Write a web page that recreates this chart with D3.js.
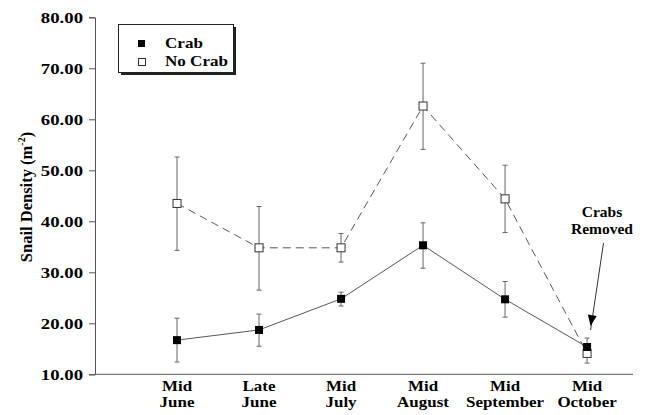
<!DOCTYPE html>
<html><head><meta charset="utf-8">
<script src="https://cdn.jsdelivr.net/npm/d3@7"></script>
<style>body{margin:0;background:#fff}svg{display:block} svg text{font-family:"Liberation Serif","Times New Roman",Times,serif;font-weight:bold}</style>
</head><body>
<script>
const categories = [["Mid","June"],["Late","June"],["Mid","July"],["Mid","August"],["Mid","September"],["Mid","October"]];
const crabMean = [16.7, 18.7, 24.8, 35.3, 24.7, 15.35];
const crabHi   = [21.0, 21.8, 26.1, 39.7, 28.2, 17.1];
const crabLo   = [12.4, 15.5, 23.4, 30.8, 21.2, 15.35];
const noCrabMean = [43.5, 34.8, 34.8, 62.6, 44.4, 14.1];
const noCrabHi   = [52.6, 42.9, 37.6, 71.0, 51.0, 14.1];
const noCrabLo   = [34.3, 26.5, 32.0, 54.1, 37.8, 12.2];
const yTicks = [10,20,30,40,50,60,70,80];
const seriesNames = ["Crab","No Crab"];
const annotation = ["Crabs","Removed"];

const W=645,H=415;
const svg=d3.select("body").append("svg").attr("width",W).attr("height",H);
const x=d3.scaleLinear().domain([-1,5.56]).range([95,633]);
const y=d3.scaleLinear().domain([10,80]).range([374.3,17.3]);
const axisCol="#555";
function stretch(sel,f){sel.each(function(){const L=this.getComputedTextLength();d3.select(this).attr("textLength",L*f).attr("lengthAdjust","spacingAndGlyphs");});}

// y axis
const ya=svg.append("g").attr("transform","translate(95,0)")
  .call(d3.axisLeft(y).tickValues(yTicks).tickFormat(d3.format(".2f")).tickSize(6).tickPadding(6));
ya.attr("font-family",null);
ya.select(".domain").attr("stroke",axisCol);
ya.selectAll(".tick line").attr("stroke",axisCol);
ya.selectAll("text").attr("font-size",15).attr("fill","#000").attr("dy","0.34em");
stretch(ya.selectAll("text"),1.25);

// x axis line
svg.append("line").attr("x1",x(-1)).attr("x2",x(5.56)).attr("y1",y(10)).attr("y2",y(10)).attr("stroke",axisCol);
const xl=svg.append("g");
categories.forEach((c,i)=>{
  [0,1].forEach(k=>{
    xl.append("text").attr("x",x(i)).attr("y",391+k*16).attr("text-anchor","middle")
     .attr("font-size",15).text(c[k]);
  });
});
stretch(xl.selectAll("text"),1.13);

// y title
const yt=svg.append("text").attr("transform","translate(32,197) rotate(-90)").attr("text-anchor","middle")
 .attr("font-size",16.5);
yt.append("tspan").text("Snail Density (m");
yt.append("tspan").attr("font-size",10).attr("dy",-7).text("-2");
yt.append("tspan").attr("dy",7).text(")");

const idx=d3.range(categories.length);
const line=d3.line().x(d=>x(d[0])).y(d=>y(d[1]));

// lines
svg.append("path").attr("d",line(idx.map(i=>[i,noCrabMean[i]]))).attr("fill","none")
  .attr("stroke","#444").attr("stroke-width",0.9).attr("stroke-dasharray","8,5");
svg.append("path").attr("d",line(idx.map(i=>[i,crabMean[i]]))).attr("fill","none")
  .attr("stroke","#444").attr("stroke-width",0.9);

// error bars
function errs(hi,lo){
  const g=svg.append("g").attr("stroke","#666").attr("stroke-width",1);
  idx.forEach(i=>{
    g.append("line").attr("x1",x(i)).attr("x2",x(i)).attr("y1",y(hi[i])).attr("y2",y(lo[i]));
    g.append("line").attr("x1",x(i)-2.5).attr("x2",x(i)+2.5).attr("y1",y(hi[i])).attr("y2",y(hi[i]));
    g.append("line").attr("x1",x(i)-2.5).attr("x2",x(i)+2.5).attr("y1",y(lo[i])).attr("y2",y(lo[i]));
  });
}
errs(noCrabHi,noCrabLo);
errs(crabHi,crabLo);

// markers
const s=8;
svg.append("g").selectAll("rect").data(idx).join("rect")
  .attr("x",i=>x(i)-s/2).attr("y",i=>y(noCrabMean[i])-s/2).attr("width",s).attr("height",s)
  .attr("fill","#fff").attr("stroke","#333").attr("stroke-width",1);
svg.append("g").selectAll("rect").data(idx).join("rect")
  .attr("x",i=>x(i)-s/2).attr("y",i=>y(crabMean[i])-s/2).attr("width",s).attr("height",s)
  .attr("fill","#000");

// legend
svg.append("rect").attr("x",121).attr("y",27).attr("width",115).attr("height",48).attr("fill","#222");
svg.append("rect").attr("x",118.5).attr("y",24.5).attr("width",115).attr("height",48).attr("fill","#fff").attr("stroke","#222");
svg.append("rect").attr("x",138).attr("y",40).attr("width",7).attr("height",7).attr("fill","#000");
svg.append("rect").attr("x",138.5).attr("y",58.5).attr("width",7).attr("height",7).attr("fill","#fff").attr("stroke","#333");
const lg=svg.append("g");
seriesNames.forEach((n,k)=>{
  lg.append("text").attr("x",165).attr("y",48+k*18).attr("font-size",15.5).text(n);
});
stretch(lg.selectAll("text"),1.1);

// annotation
annotation.forEach((t,k)=>{
  svg.append("text").attr("text-anchor","middle").attr("font-size",15.5)
    .attr("x",602).attr("y",217+k*17).text(t);
});
const ax0=603.5, ay0=243, ax1=x(5)+3.5, ay1=y(crabHi[5])-12;
svg.append("line").attr("x1",ax0).attr("y1",ay0).attr("x2",ax1).attr("y2",ay1+4).attr("stroke","#333").attr("stroke-width",1);
const ang=Math.atan2(ay1-ay0,ax1-ax0);
const hl=11, hw=4.5;
const tip=[ax1,ay1];
const b=[ax1-hl*Math.cos(ang),ay1-hl*Math.sin(ang)];
const p1=[b[0]+hw*Math.sin(ang),b[1]-hw*Math.cos(ang)], p2=[b[0]-hw*Math.sin(ang),b[1]+hw*Math.cos(ang)];
svg.append("path").attr("d",`M${tip}L${p1}L${p2}Z`).attr("fill","#000");
</script>
</body></html>
